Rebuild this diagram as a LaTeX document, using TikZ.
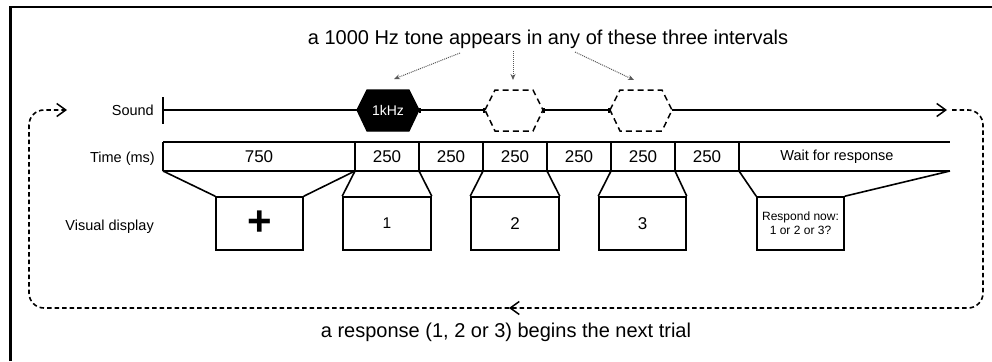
\documentclass[tikz,border=0pt]{standalone}
\usepackage{fontspec}
\setmainfont{Liberation Sans}
\usetikzlibrary{arrows.meta}
\begin{document}
\begin{tikzpicture}[x=1pt,y=-1pt,
  lbl/.style={inner sep=0pt, font=\fontsize{14.5}{16}\selectfont},
  cell/.style={inner sep=0pt, font=\fontsize{17}{18}\selectfont},
  disp/.style={draw, line width=1.6pt, minimum height=53pt, inner sep=0pt, align=center},
  edge/.style={line width=1.6pt},
  hexfill/.style={fill=black, draw=black, line width=1.2pt},
  hexdash/.style={draw=black, line width=1.5pt, dash pattern=on 6pt off 4pt},
  loopdash/.style={line width=1.6pt, dash pattern=on 4.5pt off 3pt, rounded corners=15pt},
  barb/.style={-{Straight Barb[length=9pt,width=13pt,line width=1.5pt]}},
  hint/.style={draw=black!65, line width=1pt, dash pattern=on 1pt off 1pt, -{Stealth[length=6pt,width=5pt]}},
  title/.style={inner sep=0pt, font=\fontsize{20}{22}\selectfont}
]
\useasboundingbox (0,0) rectangle (992,361);
\fill[white] (0,0) rectangle (992,361);
% frame
\draw[line width=2.2pt] (10.5,361) -- (10.5,7) -- (992,7);

% titles
\node[title, anchor=base] (tt) at (548,45) {a 1000 Hz tone appears in any of these three intervals};
\node[title, anchor=base] (bt) at (506,337) {a response (1, 2 or 3) begins the next trial};

% row labels
\node[lbl, anchor=base east] (snd) at (154,115) {Sound};
\node[lbl, anchor=base east] (tms) at (155,162) {Time (ms)};
\node[lbl, anchor=base east] (vis) at (154,230) {Visual display};

% sound line
\coordinate (s0) at (163,110);
\coordinate (h1w) at (357,110); \coordinate (h1e) at (419,110);
\coordinate (h2w) at (485,110); \coordinate (h2e) at (543,110);
\coordinate (h3w) at (610,110); \coordinate (h3e) at (672,110);
\coordinate (send) at (947,110);
\draw[edge] (163,97) -- (163,124);
\draw[edge] (s0) -- (h1w);
\draw[edge, {Bar[width=5pt]}-{Bar[width=5pt]}] (h1e) -- (h2w);
\draw[edge, {Bar[width=5pt]}-{Bar[width=5pt]}] (h2e) -- (h3w);
\draw[edge, barb] (h3e) -- (send);

% hexagons
\path[hexfill] (357,110) -- (367,90) -- (409,90) -- (419,110) -- (409,131) -- (367,131) -- cycle;
\node[inner sep=0pt, text=white, font=\fontsize{14}{15}\selectfont] (hk) at (388,110.5) {1kHz};
\path[hexdash] (485,110) -- (495,90) -- (533,90) -- (543,110) -- (533,131) -- (495,131) -- cycle;
\path[hexdash] (610,110) -- (620,90) -- (662,90) -- (672,110) -- (662,131) -- (620,131) -- cycle;

% hint arrows
\coordinate (a1s) at (460,53); \coordinate (a1e) at (394,79);
\coordinate (a2s) at (513,51); \coordinate (a2e) at (513,80);
\coordinate (a3s) at (575,52); \coordinate (a3e) at (634,80);
\draw[hint] (a1s) -- (a1e);
\draw[hint] (a2s) -- (a2e);
\draw[hint] (a3s) -- (a3e);

% time row
\foreach \x/\n in {163/t0,355/t1,419/t2,483/t3,547/t4,611/t5,675/t6,739/t7,950/t8} {
  \coordinate (\n) at (\x,171);
  \coordinate (\n u) at (\x,142);
}
\draw[edge] (t0u) -- (t8u);
\draw[edge] (t0) -- (t8);
\foreach \n in {t0,t1,t2,t3,t4,t5,t6,t7} { \draw[edge] (\n u) -- (\n); }
\node[cell] (c0) at (259,156.5) {750};
\node[cell] (c1) at (387,156.5) {250};
\node[cell] (c2) at (451,156.5) {250};
\node[cell] (c3) at (515,156.5) {250};
\node[cell] (c4) at (579,156.5) {250};
\node[cell] (c5) at (643,156.5) {250};
\node[cell] (c6) at (707,156.5) {250};
\node[lbl] (c7) at (837,156.5) {Wait for response};

% visual display boxes
\node[disp, minimum width=87pt, font=\fontsize{42}{42}\selectfont\bfseries] (b0) at (259.5,223.5) {\raisebox{-1pt}{+}};
\node[disp, minimum width=88pt, font=\fontsize{15.5}{17}\selectfont] (b1) at (387,223.5) {1};
\node[disp, minimum width=88pt, font=\fontsize{17}{18}\selectfont] (b2) at (515,223.5) {2};
\node[disp, minimum width=87pt, font=\fontsize{17}{18}\selectfont] (b3) at (642.5,223.5) {3};
\node[disp, minimum width=87pt, font=\fontsize{12}{14}\selectfont] (b4) at (800.5,223.5) {Respond now:\\1 or 2 or 3?};

% trapezoid connectors
\draw[edge] (t0) -- (b0.north west);
\draw[edge] (t1) -- (b0.north east);
\draw[edge] (t1) -- (b1.north west);
\draw[edge] (t2) -- (b1.north east);
\draw[edge] (t3) -- (b2.north west);
\draw[edge] (t4) -- (b2.north east);
\draw[edge] (t5) -- (b3.north west);
\draw[edge] (t6) -- (b3.north east);
\draw[edge] (t7) -- (b4.north west);
\draw[edge] (t8) -- (b4.north east);

% loop
\coordinate (lstart) at (952,110);
\coordinate (lmid) at (509,308);
\coordinate (lend) at (67,110);
\draw[loopdash, barb] (lstart) -- (983,110) -- (983,308) -- (lmid);
\draw[loopdash, barb] (lmid) -- (29,308) -- (29,110) -- (lend);
\end{tikzpicture}
\end{document}
